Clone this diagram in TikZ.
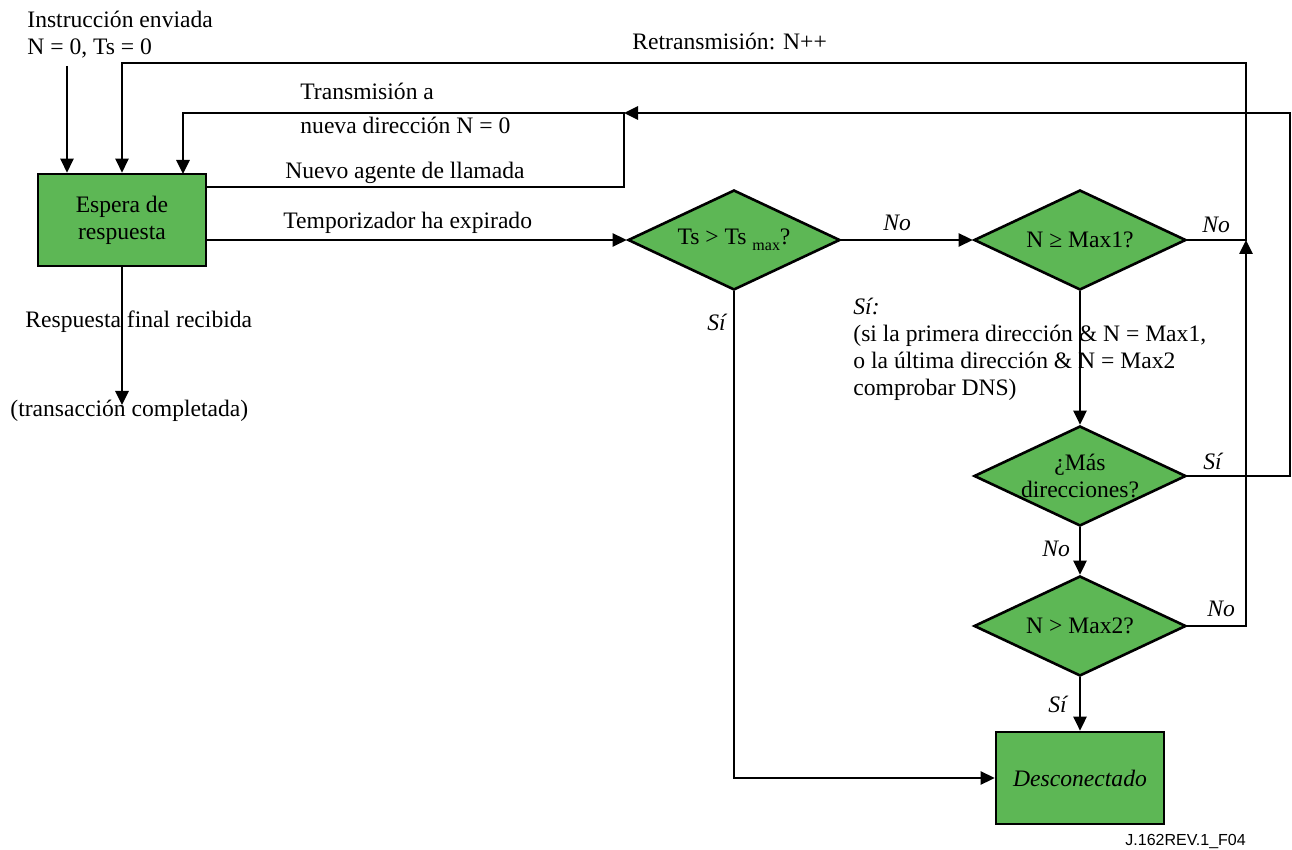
\documentclass[tikz,border=0pt]{standalone}
\usepackage{fontspec}
\setmainfont{Liberation Serif}
\newfontfamily\figsans{Liberation Sans}
\usetikzlibrary{arrows.meta,shapes.geometric}
\definecolor{boxgreen}{RGB}{93,183,85}

\begin{document}
\begin{tikzpicture}[x=0.5pt,y=-0.5pt,
  font=\fontsize{11.8}{13.5}\selectfont,
  every node/.style={inner sep=0pt},
  arr/.style={line width=1.3pt,-{Triangle[length=7pt,width=6.5pt]}},
  statebox/.style={draw,line width=1.3pt,fill=boxgreen,minimum width=84pt,minimum height=46pt},
  decision/.style={diamond,draw,line width=1.3pt,fill=boxgreen,minimum width=106pt,minimum height=50pt},
  lbl/.style={anchor=base west},
  ans/.style={anchor=base west,font=\fontsize{11.8}{13.5}\selectfont\itshape}
]
\useasboundingbox (0,0) rectangle (1292,850);

% states and decisions
\node[statebox,align=center] (wait) at (122,220) {Espera de\\respuesta};
\node[statebox,font=\fontsize{11.8}{13.5}\selectfont\itshape] (disc) at (1080,778) {Desconectado};

\node[decision] (dts) at (734,240) {};
\node (dtstext) at (dts) {Ts > Ts \raisebox{-0.55ex}{\fontsize{8}{9}\selectfont max}?};
\node[decision] (dmax1) at (1080,240) {};
\node (dmax1text) at (dmax1) {N ≥ Max1?};
\node[decision] (dmore) at (1080,476) {};
\node[align=center] (dmoretext) at (dmore) {¿Más\\direcciones?};
\node[decision] (dmax2) at (1080,626) {};
\node (dmax2text) at (dmax2) {N > Max2?};

% bend points and free ends
\coordinate (start) at (67,66);
\coordinate (retop) at (1246,63);
\coordinate (merge) at (1246,240);
\coordinate (tnew) at (624,113);
\coordinate (rightx) at (1290,113);
\coordinate (newy) at (624,187);
\coordinate (newin) at (183,174);
\coordinate (done) at (122,405);

% connectors
\draw[arr] (start) -- (start |- wait.north);
\draw[arr] (dmax1.east) -- (merge) -- (retop) -| (wait.north);
\draw[arr] (dmax2.east) -| (merge);
\draw[arr] (dmore.east) -| (rightx) -- (tnew);
\draw[arr] (wait.east |- newy) -- (newy) -- (tnew) -| (newin);
\draw[arr] (wait.east |- dts.west) -- (dts.west);
\draw[arr] (dts.east) -- (dmax1.west);
\draw[arr] (dts.south) |- (disc.west);
\draw[arr] (dmax1.south) -- (dmore.north);
\draw[arr] (dmore.south) -- (dmax2.north);
\draw[arr] (dmax2.south) -- (disc.north);
\draw[arr] (wait.south) -- (done);

% texts
\node[lbl] (t1) at (27,28) {Instrucción enviada};
\node[lbl] (t2) at (27,55) {N = 0, Ts = 0};
\node[lbl] (t3) at (632,50) {Retransmisión: N++};
\node[lbl] (t4) at (300,100) {Transmisión a};
\node[lbl] (t5) at (300,134) {nueva dirección N = 0};
\node[lbl] (t6) at (285,179) {Nuevo agente de llamada};
\node[lbl] (t7) at (283,229) {Temporizador ha expirado};
\node[lbl] (t8) at (25,328) {Respuesta final recibida};
\node[lbl] (t9) at (10,417) {(transacción completada)};

\node[ans] (a1) at (883,231) {No};
\node[ans] (a2) at (1202,233) {No};
\node[ans] (a3) at (707,331) {Sí};
\node[anchor=north west,align=left] (a4) at (853,298)
  {\textit{Sí:}\\(si la primera dirección \& N = Max1,\\o la última dirección \& N = Max2\\comprobar DNS)};
\node[ans] (a5) at (1203,470) {Sí};
\node[ans] (a6) at (1042,557) {No};
\node[ans] (a7) at (1207,616) {No};
\node[ans] (a8) at (1048,712) {Sí};

\node[anchor=base west,font=\figsans\fontsize{8}{9}\selectfont] (fig) at (1125,845) {J.162REV.1\_F04};
\end{tikzpicture}
\end{document}
